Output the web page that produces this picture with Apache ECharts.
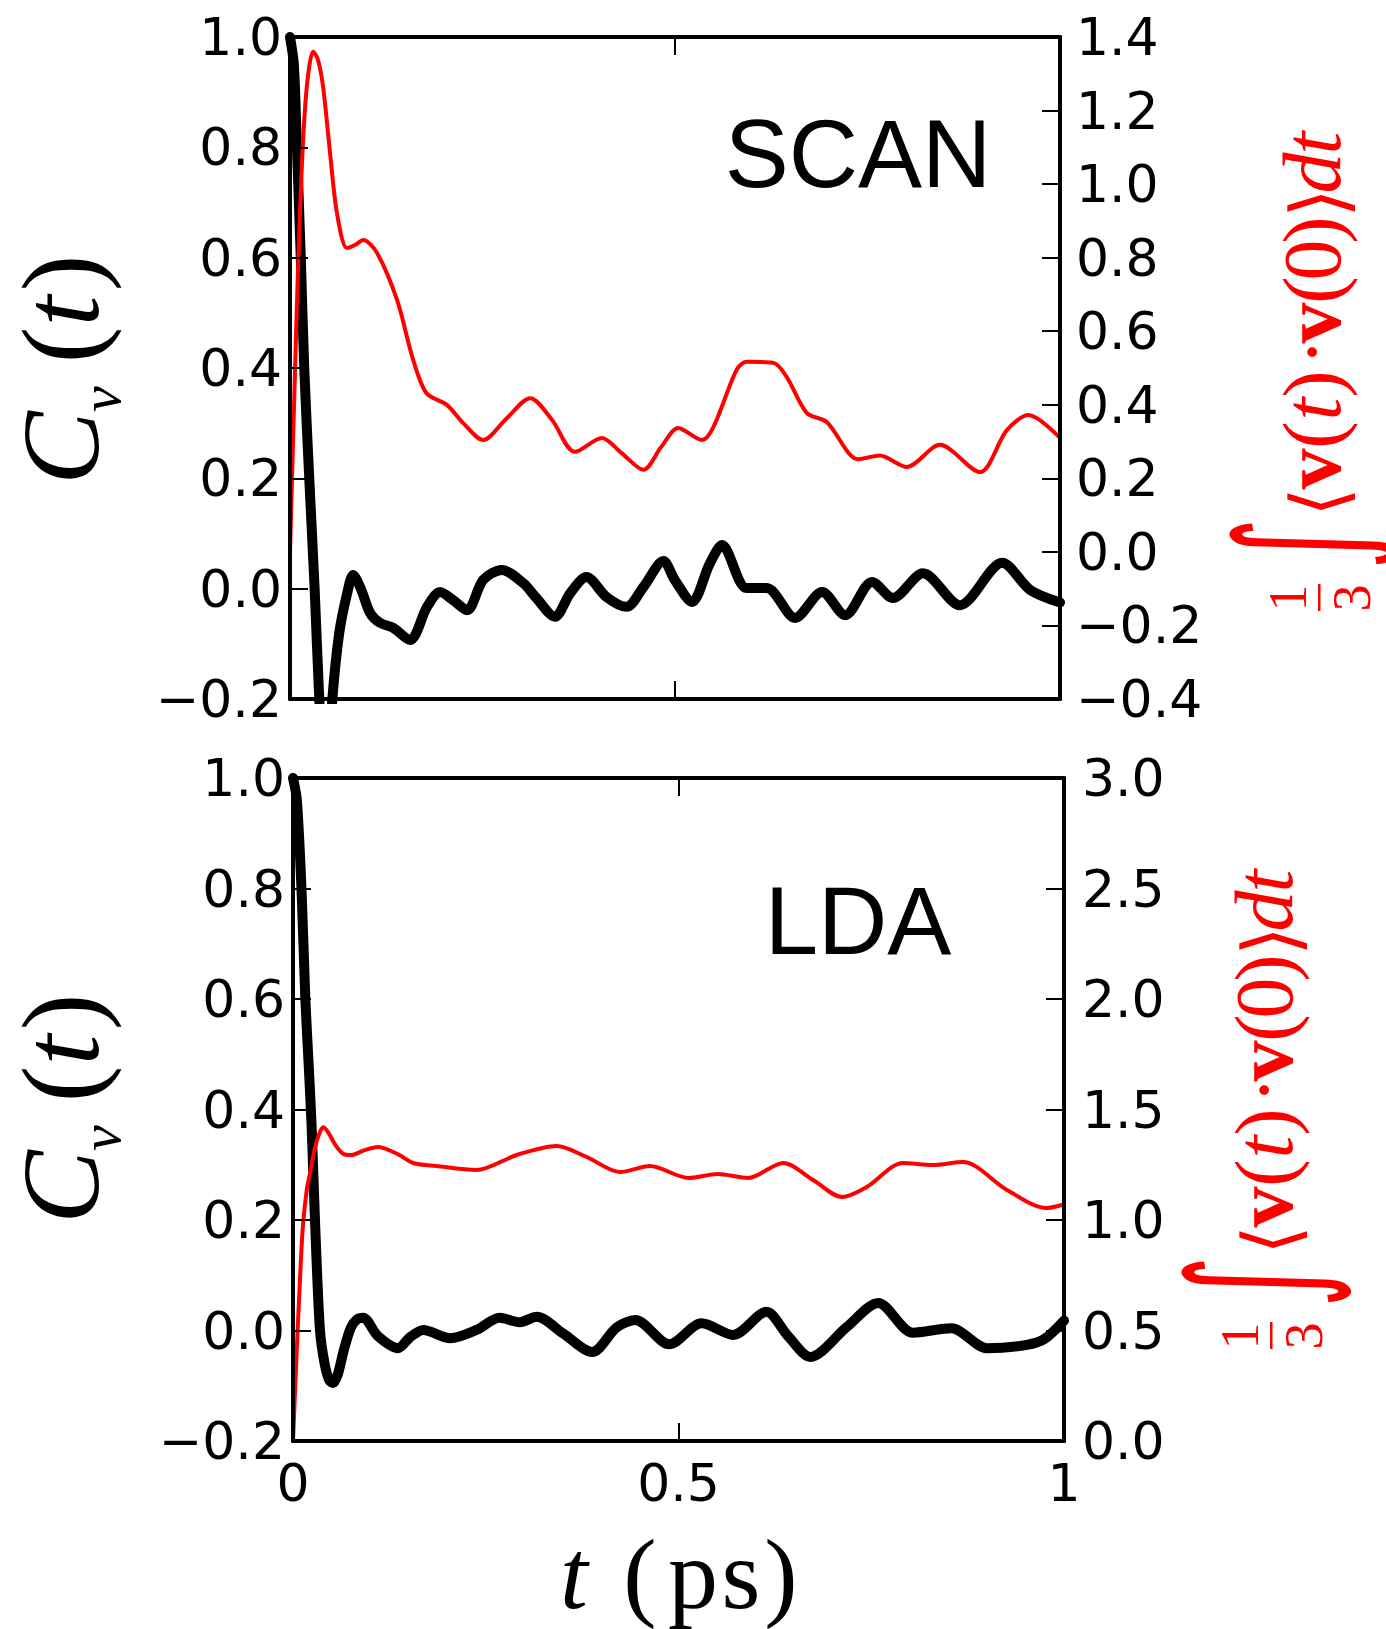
<!DOCTYPE html>
<html><head><meta charset="utf-8">
<script src="https://cdn.jsdelivr.net/npm/echarts@6/dist/echarts.min.js"></script>
<style>html,body{margin:0;padding:0;background:#fff}#main{width:1386px;height:1629px}</style>
</head><body><div id="main"></div>
<script>
// ---------------- data ----------------
const timeTicks = [0, 0.5, 1];
const cvTicks = [-0.2, 0.0, 0.2, 0.4, 0.6, 0.8, 1.0];
const scanIntTicks = [-0.4, -0.2, 0.0, 0.2, 0.4, 0.6, 0.8, 1.0, 1.2, 1.4];
const ldaIntTicks = [0.0, 0.5, 1.0, 1.5, 2.0, 2.5, 3.0];

const panelNames = ['SCAN', 'LDA'];

// SCAN: velocity autocorrelation C_v(t)
const scanCvT = [0, 0.005, 0.009, 0.014, 0.0185, 0.025, 0.032, 0.038, 0.043, 0.047, 0.051, 0.055, 0.064, 0.074, 0.082, 0.092, 0.104, 0.117, 0.134, 0.156, 0.178, 0.195, 0.212, 0.23, 0.251, 0.275, 0.303, 0.320, 0.344, 0.364, 0.385, 0.411, 0.437, 0.459, 0.485, 0.500, 0.522, 0.545, 0.561, 0.593, 0.619, 0.656, 0.691, 0.721, 0.756, 0.783, 0.822, 0.870, 0.925, 0.961, 1.0];
const scanCv  = [1.0, 0.95, 0.8, 0.6, 0.4, 0.2, 0.0, -0.2, -0.31, -0.34, -0.31, -0.2, -0.08, -0.01, 0.025, 0.0, -0.044, -0.062, -0.071, -0.093, -0.033, -0.006, -0.021, -0.039, 0.016, 0.034, 0.010, -0.017, -0.051, -0.008, 0.021, -0.015, -0.033, 0.003, 0.050, 0.015, -0.024, 0.045, 0.079, 0.001, 0.001, -0.053, -0.006, -0.048, 0.012, -0.017, 0.028, -0.030, 0.047, -0.002, -0.025];
// SCAN: (1/3) integral of <v(t).v(0)>
const scanIntT = [0, 0.005, 0.010, 0.015, 0.020, 0.025, 0.030, 0.036, 0.043, 0.052, 0.061, 0.074, 0.085, 0.095, 0.113, 0.139, 0.160, 0.177, 0.204, 0.225, 0.251, 0.280, 0.312, 0.340, 0.370, 0.405, 0.430, 0.459, 0.482, 0.504, 0.535, 0.550, 0.580, 0.593, 0.628, 0.645, 0.671, 0.697, 0.738, 0.766, 0.801, 0.844, 0.896, 0.931, 0.959, 1.0];
const scanInt  = [0, 0.38, 0.74, 1.03, 1.22, 1.32, 1.36, 1.34, 1.264, 1.085, 0.921, 0.826, 0.835, 0.848, 0.813, 0.685, 0.522, 0.432, 0.399, 0.35, 0.304, 0.36, 0.418, 0.36, 0.272, 0.310, 0.27, 0.223, 0.285, 0.337, 0.304, 0.34, 0.495, 0.517, 0.514, 0.476, 0.378, 0.353, 0.252, 0.262, 0.231, 0.291, 0.217, 0.331, 0.372, 0.31];

// LDA: velocity autocorrelation C_v(t)
const ldaCvT = [0, 0.005, 0.011, 0.016, 0.020, 0.024, 0.0285, 0.035, 0.041, 0.047, 0.052, 0.058, 0.066, 0.075, 0.083, 0.091, 0.110, 0.136, 0.152, 0.169, 0.204, 0.238, 0.268, 0.294, 0.316, 0.350, 0.388, 0.420, 0.444, 0.488, 0.530, 0.571, 0.614, 0.642, 0.671, 0.718, 0.759, 0.804, 0.854, 0.900, 0.952, 0.975, 1.0];
const ldaCv  = [1.0, 0.96, 0.8, 0.6, 0.49, 0.375, 0.2, 0.0, -0.06, -0.09, -0.095, -0.08, -0.035, 0.005, 0.02, 0.023, -0.01, -0.032, -0.012, 0.001, -0.014, 0.001, 0.023, 0.015, 0.025, -0.005, -0.039, 0.006, 0.019, -0.025, 0.013, -0.008, 0.034, -0.01, -0.048, 0.006, 0.050, -0.004, 0.004, -0.032, -0.026, -0.015, 0.018];
// LDA: (1/3) integral of <v(t).v(0)>
const ldaIntT = [0, 0.005, 0.010, 0.013, 0.018, 0.022, 0.028, 0.034, 0.039, 0.045, 0.055, 0.065, 0.076, 0.092, 0.110, 0.135, 0.156, 0.186, 0.238, 0.290, 0.342, 0.381, 0.424, 0.463, 0.513, 0.551, 0.590, 0.636, 0.675, 0.712, 0.744, 0.791, 0.830, 0.869, 0.926, 0.977, 1.0];
const ldaInt  = [0, 0.42, 0.80, 0.98, 1.14, 1.21, 1.32, 1.39, 1.42, 1.40, 1.34, 1.30, 1.294, 1.315, 1.33, 1.30, 1.258, 1.244, 1.226, 1.294, 1.335, 1.285, 1.217, 1.244, 1.19, 1.208, 1.19, 1.258, 1.18, 1.104, 1.149, 1.258, 1.249, 1.262, 1.136, 1.054, 1.07];

// ---------------- helpers ----------------
const zip = (a, b) => a.map((t, i) => [t, b[i]]);
const fmtY = v => (Math.abs(v) < 1e-9 ? 0 : v).toFixed(1).replace('-', '\u2212');
const fmtX = v => {
  const i = timeTicks.findIndex(t => Math.abs(t - v) < 1e-9);
  return i >= 0 ? String(timeTicks[i]) : '';
};
const TICKFONT = {color: '#000', fontSize: 52, fontFamily: '"DejaVu Sans", sans-serif'};
const SERIF = '"Liberation Serif", "DejaVu Serif", serif';

function xAxisDef(gridIndex, position, showLabel) {
  return {
    type: 'value', gridIndex, position,
    min: timeTicks[0], max: timeTicks[timeTicks.length - 1], interval: timeTicks[1] - timeTicks[0],
    axisLine: {show: true, onZero: false, lineStyle: {color: '#000', width: 4}},
    axisTick: {show: true, inside: true, length: 18, lineStyle: {color: '#000', width: 2}},
    axisLabel: Object.assign({show: showLabel, margin: 16, formatter: fmtX, showMinLabel: true, showMaxLabel: true}, TICKFONT),
    splitLine: {show: false}, z: 10
  };
}
function yAxisDef(gridIndex, position, ticks, margin) {
  return {
    type: 'value', gridIndex, position,
    min: ticks[0], max: ticks[ticks.length - 1],
    interval: +(ticks[1] - ticks[0]).toFixed(6),
    axisLine: {show: true, onZero: false, lineStyle: {color: '#000', width: 4}},
    axisTick: {show: true, inside: true, length: 18, lineStyle: {color: '#000', width: 2}},
    axisLabel: Object.assign({show: true, margin, formatter: fmtY, showMinLabel: true, showMaxLabel: true}, TICKFONT),
    splitLine: {show: false}, z: 10
  };
}
function lineSeries(xi, yi, t, v, color, width, z) {
  return {
    type: 'line', xAxisIndex: xi, yAxisIndex: yi, data: zip(t, v),
    smooth: 0.3, showSymbol: false, symbol: 'none', clip: true, z,
    lineStyle: {color, width, cap: 'round', join: 'round'}
  };
}

// glyph placed on a baseline (local coords): lx = centre along text, dy = baseline shift
function gl(text, lx, size, o = {}) {
  const k = o.k !== undefined ? o.k : 0.3375;
  const y = o.cy !== undefined ? o.cy : (o.dy || 0) - k * size;
  const el = {
    type: 'text', x: lx, y,
    style: {
      text, fill: o.color || '#000', fontSize: size, fontFamily: o.family || SERIF,
      fontStyle: o.italic ? 'italic' : 'normal', fontWeight: o.bold ? 'bold' : 'normal',
      align: 'center', verticalAlign: 'middle', textAlign: 'center', textVerticalAlign: 'middle'
    }
  };
  if (o.sy) el.scaleY = o.sy;
  return el;
}
function cvLabel(x, y) {
  return {
    type: 'group', x, y, rotation: Math.PI / 2,
    children: [
      gl('C', 39, 110, {italic: true}),
      gl('v', 88, 58, {italic: true, dy: 22}),
      gl('(', 142, 110),
      gl('t', 176, 110, {italic: true}),
      gl(')', 214, 110)
    ]
  };
}
function intLabel(x, y) {
  const R = '#ff0000';
  const F = 82;
  const A = '"DejaVu Sans", sans-serif';
  return {
    type: 'group', x, y, rotation: Math.PI / 2,
    children: [
      gl('1', 14, 54, {color: R, cy: -52}),
      {type: 'rect', shape: {x: 1, y: -22, width: 27, height: 2.5}, style: {fill: R}},
      gl('3', 14, 54, {color: R, cy: 12}),
      gl('\u222B', 68, 100, {color: R, cy: -38, family: A, sy: 1.75}),
      gl('\u27E8', 110, 76, {color: R, cy: -22, family: A}),
      gl('v', 143, F, {color: R, bold: true}),
      gl('(', 177, F, {color: R}),
      gl('t', 203, F, {color: R, italic: true}),
      gl(')', 228, F, {color: R}),
      gl('\u00B7', 260, F, {color: R}),
      gl('v', 289, F, {color: R, bold: true}),
      gl('(', 322, F, {color: R}),
      gl('0', 352, F, {color: R}),
      gl(')', 382, F, {color: R}),
      gl('\u27E9', 409, 76, {color: R, cy: -22, family: A}),
      gl('d', 439, F, {color: R, italic: true}),
      gl('t', 469, F, {color: R, italic: true})
    ]
  };
}
function panelText(text, x, y) {
  return {type: 'text', x, y, style: {text, fill: '#000', fontSize: 96, fontFamily: '"Liberation Sans", Arial, sans-serif',
    align: 'center', verticalAlign: 'middle', textAlign: 'center', textVerticalAlign: 'middle'}};
}

// ---------------- chart ----------------
const chart = echarts.init(document.getElementById('main'), null, {renderer: 'svg', width: 1386, height: 1629});
chart.setOption({
  animation: false,
  backgroundColor: '#fff',
  grid: [
    {left: 290, top: 37, width: 770, height: 662, show: false, outerBoundsMode: 'none'},
    {left: 293, top: 778, width: 771, height: 663, show: false, outerBoundsMode: 'none'}
  ],
  xAxis: [
    xAxisDef(0, 'bottom', false),
    xAxisDef(0, 'top', false),
    xAxisDef(1, 'bottom', true),
    xAxisDef(1, 'top', false)
  ],
  yAxis: [
    yAxisDef(0, 'left', cvTicks, 8),
    yAxisDef(0, 'right', scanIntTicks, 16),
    yAxisDef(1, 'left', cvTicks, 8),
    yAxisDef(1, 'right', ldaIntTicks, 18)
  ],
  series: [
    lineSeries(0, 0, scanCvT, scanCv, '#000000', 10, 2),
    lineSeries(0, 1, scanIntT, scanInt, '#ff0000', 4, 3),
    lineSeries(2, 2, ldaCvT, ldaCv, '#000000', 10, 2),
    lineSeries(2, 3, ldaIntT, ldaInt, '#ff0000', 4, 3)
  ],
  graphic: [
    panelText(panelNames[0], 858, 153),
    panelText(panelNames[1], 858, 920),
    cvLabel(98, 487),
    cvLabel(98, 1226),
    intLabel(1340, 612),
    intLabel(1292, 1350),
    gl('t', 574, 100, {italic: true, cy: 1608 - 33.75}),
    gl('(', 640, 100, {cy: 1608 - 33.75}),
    gl('p', 693, 100, {cy: 1608 - 33.75}),
    gl('s', 741, 100, {cy: 1608 - 33.75}),
    gl(')', 781, 100, {cy: 1608 - 33.75})
  ]
});
</script>
</body></html>
